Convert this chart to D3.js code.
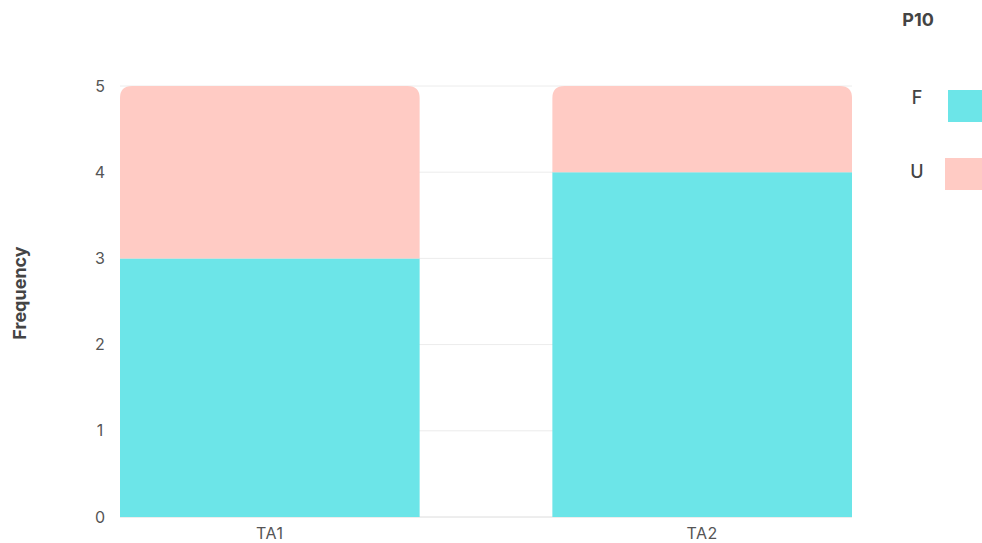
<!DOCTYPE html>
<html>
<head>
<meta charset="utf-8">
<script src="https://cdn.jsdelivr.net/npm/d3@7"></script>
<style>
  html, body { margin: 0; padding: 0; background: #fff; }
  svg { display: block; font-family: Inter, "Noto Sans", sans-serif; }
</style>
</head>
<body>
<svg id="chart" width="982" height="543"></svg>
<script>
// Stacked frequency per category
const categories = ["TA1", "TA2"];
const seriesKeys = ["F", "U"];
const valuesF = [3, 4];
const valuesU = [2, 1];
const yTicks = [0, 1, 2, 3, 4, 5];
const legendTitle = "P10";
const yTitle = "Frequency";

const colors = { F: "#6ce5e8", U: "#ffcbc4" };

const svg = d3.select("#chart");
const margin = { left: 120, right: 130, top: 86, bottom: 26 };
const W = 982, H = 543;

const x = d3.scaleBand()
  .domain(categories)
  .range([margin.left, W - margin.right])
  .paddingInner(0.307)
  .paddingOuter(0);

const y = d3.scaleLinear()
  .domain([0, 5])
  .range([H - margin.bottom, margin.top]);

// gridlines
svg.append("g")
  .selectAll("line")
  .data(yTicks)
  .join("line")
  .attr("x1", margin.left)
  .attr("x2", W - margin.right)
  .attr("y1", d => y(d))
  .attr("y2", d => y(d))
  .attr("stroke", d => d === 0 ? "#dcdcdc" : "#ececec")
  .attr("stroke-width", 1);

// y tick labels
svg.append("g")
  .selectAll("text")
  .data(yTicks)
  .join("text")
  .attr("x", 100)
  .attr("y", d => y(d))
  .attr("dy", "0.35em")
  .attr("text-anchor", "middle")
  .attr("font-size", 16)
  .attr("fill", "#555")
  .text(d => d);

// x labels
svg.append("g")
  .selectAll("text")
  .data(categories)
  .join("text")
  .attr("x", d => x(d) + x.bandwidth() / 2)
  .attr("y", 539)
  .attr("text-anchor", "middle")
  .attr("font-size", 16)
  .attr("letter-spacing", 0.5)
  .attr("fill", "#555")
  .text(d => d);

// stacked data
const rows = categories.map((c, i) => ({ cat: c, F: valuesF[i], U: valuesU[i] }));
const stacked = d3.stack().keys(seriesKeys)(rows);
const r = 12;

// path for a rect with rounded top corners
function topRounded(x0, y0, w, h, rad) {
  rad = Math.min(rad, h, w / 2);
  return `M${x0},${y0 + h}V${y0 + rad}Q${x0},${y0} ${x0 + rad},${y0}` +
         `H${x0 + w - rad}Q${x0 + w},${y0} ${x0 + w},${y0 + rad}V${y0 + h}Z`;
}

stacked.forEach((layer, li) => {
  const isTop = li === stacked.length - 1;
  svg.append("g")
    .selectAll("path")
    .data(layer)
    .join("path")
    .attr("fill", colors[layer.key])
    .attr("d", d => {
      const x0 = x(d.data.cat), w = x.bandwidth();
      const y0 = y(d[1]), h = y(d[0]) - y(d[1]);
      return isTop ? topRounded(x0, y0, w, h, r) : `M${x0},${y0}h${w}v${h}h${-w}Z`;
    });
});

// y axis title
svg.append("text")
  .attr("transform", "translate(20,293) rotate(-90)")
  .attr("text-anchor", "middle")
  .attr("dy", "0.35em")
  .attr("font-size", 18)
  .attr("font-weight", 700)
  .attr("fill", "#444")
  .text(yTitle);

// legend
svg.append("text")
  .attr("x", 918)
  .attr("y", 20)
  .attr("dy", "0.35em")
  .attr("text-anchor", "middle")
  .attr("font-size", 18)
  .attr("font-weight", 700)
  .attr("fill", "#444")
  .text(legendTitle);

const legendItems = [
  { key: "F", ty: 98, sx: 948, sy: 90 },
  { key: "U", ty: 172, sx: 945, sy: 158 }
];
const lg = svg.append("g");
lg.selectAll("rect")
  .data(legendItems)
  .join("rect")
  .attr("x", d => d.sx)
  .attr("y", d => d.sy)
  .attr("width", 40)
  .attr("height", 32)
  .attr("fill", d => colors[d.key]);
lg.selectAll("text")
  .data(legendItems)
  .join("text")
  .attr("x", 917)
  .attr("y", d => d.ty)
  .attr("dy", "0.35em")
  .attr("text-anchor", "middle")
  .attr("font-size", 18)
  .attr("font-weight", 500)
  .attr("fill", "#444")
  .text(d => d.key);
</script>
</body>
</html>
